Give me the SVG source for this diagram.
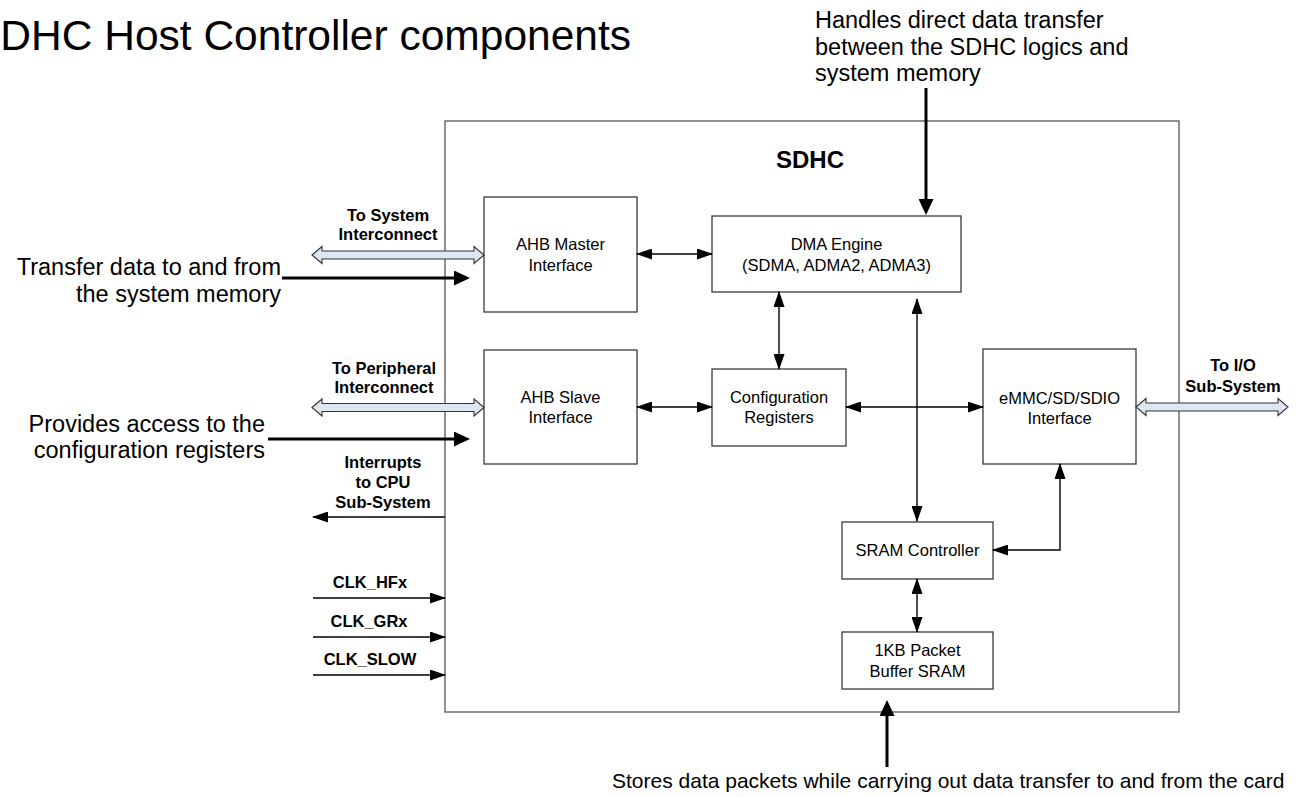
<svg xmlns="http://www.w3.org/2000/svg" width="1297" height="797" viewBox="0 0 1297 797">
  <style>
    text { font-family: "Liberation Sans", Arial, sans-serif; fill: #000; }
    .title { font-size: 42.5px; }
    .note { font-size: 23.5px; }
    .note-sm { font-size: 21px; }
    .node-text { font-size: 16.5px; text-anchor: middle; }
    .lbl { font-size: 16.5px; font-weight: bold; text-anchor: middle; }
    .frame { fill: #fff; stroke: #555; stroke-width: 1.3; }
    .box { fill: #fff; stroke: #3a3a3a; stroke-width: 1.3; }
    .wire { fill: none; stroke: #000; stroke-width: 1.4; }
    .thick { fill: none; stroke: #000; stroke-width: 3; }
    .bus { fill: #dde7f3; stroke: #333; stroke-width: 1.1; }
  </style>
  <defs>
    <marker id="arr" markerUnits="userSpaceOnUse" markerWidth="16" markerHeight="11" refX="15" refY="5.5" orient="auto-start-reverse">
      <path d="M0,0 L16,5.5 L0,11 Z" fill="#000"/>
    </marker>
    <marker id="arrBig" markerUnits="userSpaceOnUse" markerWidth="16" markerHeight="15" refX="10" refY="7.5" orient="auto-start-reverse">
      <path d="M0,0 L16,7.5 L0,15 Z" fill="#000"/>
    </marker>
  </defs>

  <rect width="1297" height="797" fill="#fff"/>

  <!-- heading -->
  <text class="title" x="-28" y="50">SDHC Host Controller components</text>

  <!-- SDHC enclosure -->
  <g id="sdhc">
    <rect class="frame" x="445" y="121" width="734" height="591"/>
    <text x="810" y="168" style="font-size:24px;font-weight:bold;text-anchor:middle">SDHC</text>
  </g>

  <!-- blocks -->
  <g id="ahb-master">
    <rect class="box" x="484" y="197" width="153" height="115"/>
    <text class="node-text" x="560.5" y="250">AHB Master</text>
    <text class="node-text" x="560.5" y="270.5">Interface</text>
  </g>
  <g id="dma-engine">
    <rect class="box" x="712" y="216" width="249" height="76"/>
    <text class="node-text" x="836.5" y="249.5">DMA Engine</text>
    <text class="node-text" x="836.5" y="270.5">(SDMA, ADMA2, ADMA3)</text>
  </g>
  <g id="ahb-slave">
    <rect class="box" x="484" y="350" width="153" height="114"/>
    <text class="node-text" x="560.5" y="403">AHB Slave</text>
    <text class="node-text" x="560.5" y="423">Interface</text>
  </g>
  <g id="config-registers">
    <rect class="box" x="712" y="369" width="134" height="77"/>
    <text class="node-text" x="779" y="403">Configuration</text>
    <text class="node-text" x="779" y="423">Registers</text>
  </g>
  <g id="emmc-interface">
    <rect class="box" x="983" y="349" width="153" height="115"/>
    <text class="node-text" x="1059.5" y="403.5">eMMC/SD/SDIO</text>
    <text class="node-text" x="1059.5" y="423.5">Interface</text>
  </g>
  <g id="sram-controller">
    <rect class="box" x="842" y="522" width="151" height="57"/>
    <text class="node-text" x="917.5" y="556">SRAM Controller</text>
  </g>
  <g id="packet-buffer">
    <rect class="box" x="842" y="632" width="151" height="57"/>
    <text class="node-text" x="917.5" y="656">1KB Packet</text>
    <text class="node-text" x="917.5" y="676.5">Buffer SRAM</text>
  </g>

  <!-- connectors -->
  <g id="connectors">
    <!-- internal links -->
    <line class="wire" x1="637" y1="254" x2="712" y2="254" marker-start="url(#arr)" marker-end="url(#arr)"/>
    <line class="wire" x1="779" y1="292" x2="779" y2="369" marker-start="url(#arr)" marker-end="url(#arr)"/>
    <line class="wire" x1="637" y1="407" x2="712" y2="407" marker-start="url(#arr)" marker-end="url(#arr)"/>
    <line class="wire" x1="846" y1="407" x2="983" y2="407" marker-start="url(#arr)" marker-end="url(#arr)"/>
    <line class="wire" x1="917" y1="299" x2="917" y2="521" marker-start="url(#arr)" marker-end="url(#arr)"/>
    <path class="wire" d="M993,550 H1060 V464" marker-start="url(#arr)" marker-end="url(#arr)"/>
    <line class="wire" x1="917" y1="579" x2="917" y2="632" marker-start="url(#arr)" marker-end="url(#arr)"/>

    <!-- bus links -->
    <path class="bus" d="M312,255 L322,246.5 L322,251 L474,251 L474,246.5 L484,255 L474,263.5 L474,259 L322,259 L322,263.5 Z"/>
    <path class="bus" d="M312,407.5 L322,399 L322,403.5 L474,403.5 L474,399 L484,407.5 L474,416 L474,411.5 L322,411.5 L322,416 Z"/>
    <path class="bus" d="M1136,407 L1146,398.5 L1146,403 L1278,403 L1278,398.5 L1288,407 L1278,415.5 L1278,411 L1146,411 L1146,415.5 Z"/>

    <!-- interrupt and clock lines -->
    <line class="wire" x1="445" y1="517" x2="313" y2="517" marker-end="url(#arr)"/>
    <line class="wire" x1="313" y1="598" x2="445" y2="598" marker-end="url(#arr)"/>
    <line class="wire" x1="313" y1="637" x2="445" y2="637" marker-end="url(#arr)"/>
    <line class="wire" x1="313" y1="675" x2="445" y2="675" marker-end="url(#arr)"/>

    <!-- callout pointers -->
    <line class="thick" x1="282" y1="278" x2="464" y2="278" marker-end="url(#arrBig)"/>
    <line class="thick" x1="268" y1="439" x2="464" y2="439" marker-end="url(#arrBig)"/>
    <line class="thick" x1="926" y1="88" x2="926" y2="209" marker-end="url(#arrBig)"/>
    <line class="thick" x1="887" y1="767" x2="887" y2="706" marker-end="url(#arrBig)"/>
  </g>

  <!-- bus and signal labels -->
  <g id="labels">
    <text class="lbl" x="388" y="221">To System</text>
    <text class="lbl" x="388" y="240">Interconnect</text>
    <text class="lbl" x="384" y="374">To Peripheral</text>
    <text class="lbl" x="384" y="393">Interconnect</text>
    <text class="lbl" x="383" y="468">Interrupts</text>
    <text class="lbl" x="383" y="488">to CPU</text>
    <text class="lbl" x="383" y="508">Sub-System</text>
    <text class="lbl" x="1233" y="371">To I/O</text>
    <text class="lbl" x="1233" y="392">Sub-System</text>
    <text class="lbl" x="370" y="588">CLK_HFx</text>
    <text class="lbl" x="369" y="627">CLK_GRx</text>
    <text class="lbl" x="370" y="665">CLK_SLOW</text>
  </g>

  <!-- callout notes -->
  <g id="notes">
    <text class="note" x="815" y="28">Handles direct data transfer</text>
    <text class="note" x="815" y="55">between the SDHC logics and</text>
    <text class="note" x="815" y="81">system memory</text>
    <text class="note" x="281" y="275" text-anchor="end">Transfer data to and from</text>
    <text class="note" x="281" y="302" text-anchor="end">the system memory</text>
    <text class="note" x="265" y="432" text-anchor="end">Provides access to the</text>
    <text class="note" x="265" y="458" text-anchor="end">configuration registers</text>
    <text class="note-sm" x="612" y="788">Stores data packets while carrying out data transfer to and from the card</text>
  </g>
</svg>
